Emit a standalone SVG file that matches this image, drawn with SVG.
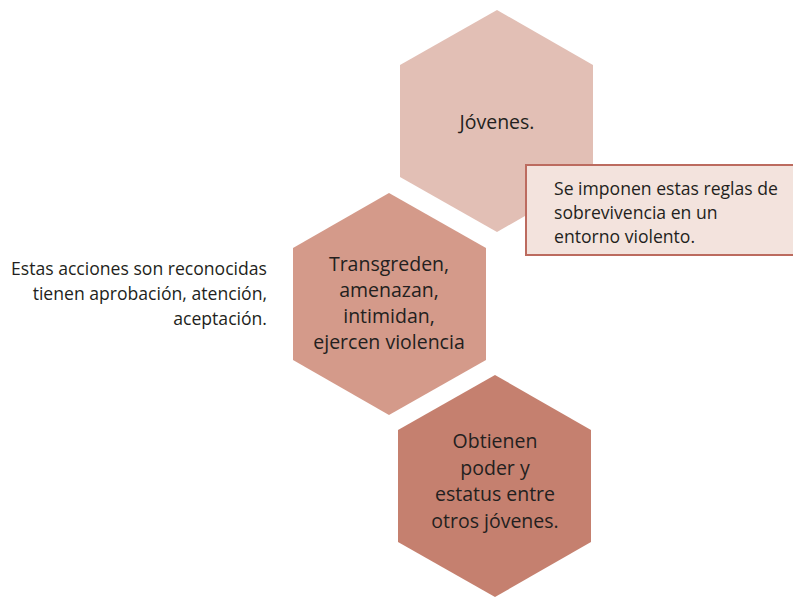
<svg xmlns="http://www.w3.org/2000/svg" width="793" height="597" viewBox="0 0 793 597">
<style>
text{font-family:"Open Sans","Noto Sans","Liberation Sans",sans-serif;fill:#231f20}
.hx{font-size:19.5px;text-anchor:middle}
.sm{font-size:17.6px}
</style>
<rect width="793" height="597" fill="#ffffff"/>
<g id="hex1">
<polygon points="497,10 593,65 593,177 497,232 400,177 400,65" fill="#e2bfb5"/>
<text class="hx" x="497" y="129">Jóvenes.</text>
</g>
<g id="hex2">
<polygon points="389,193 486,248 486,360 389,415 293,360 293,248" fill="#d49a8a"/>
<text class="hx" x="389" y="271">Transgreden,</text>
<text class="hx" x="389" y="297">amenazan,</text>
<text class="hx" x="389" y="323">intimidan,</text>
<text class="hx" x="389" y="349">ejercen violencia</text>
</g>
<g id="hex3">
<polygon points="495,375 591,430 591,542 495,597 398,542 398,430" fill="#c5806f"/>
<text class="hx" x="495" y="448">Obtienen</text>
<text class="hx" x="495" y="475">poder y</text>
<text class="hx" x="495" y="501">estatus entre</text>
<text class="hx" x="495" y="528">otros jóvenes.</text>
</g>
<g id="note">
<rect x="526" y="165" width="280" height="90" fill="#f3e3dd" stroke="#bc6b5f" stroke-width="2"/>
<text class="sm" x="554" y="195">Se imponen estas reglas de</text>
<text class="sm" x="554" y="219">sobrevivencia en un</text>
<text class="sm" x="554" y="243">entorno violento.</text>
</g>
<g id="side">
<text class="sm" x="267" y="275" text-anchor="end">Estas acciones son reconocidas</text>
<text class="sm" x="267" y="300" text-anchor="end">tienen aprobación, atención,</text>
<text class="sm" x="267" y="325" text-anchor="end">aceptación.</text>
</g>
<g id="connectors"></g>
</svg>
